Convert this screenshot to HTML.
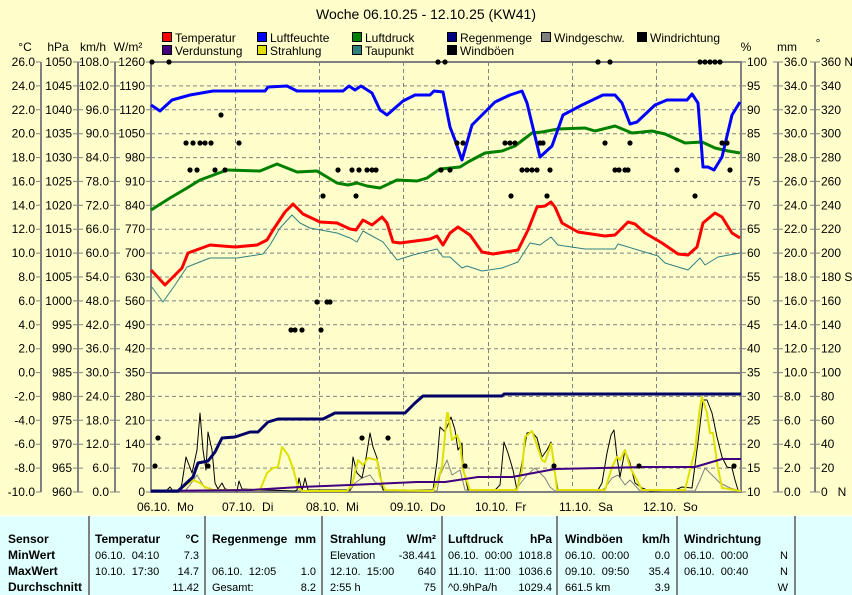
<!DOCTYPE html>
<html><head><meta charset="utf-8"><style>
html,body{margin:0;padding:0;background:#ffffcc;}
svg{display:block;font-family:"Liberation Sans",sans-serif;}
</style></head><body>
<svg width="852" height="595" viewBox="0 0 852 595" xmlns="http://www.w3.org/2000/svg">
<rect width="852" height="595" fill="#ffffcc"/>
<text x="426" y="19" font-size="14" text-anchor="middle">Woche 06.10.25 - 12.10.25 (KW41)</text>
<g font-size="12" stroke="#000" stroke-width="1">
<rect x="162.5" y="32.5" width="9" height="9" fill="#ff0000"/>
<rect x="257.5" y="32.5" width="9" height="9" fill="#0000ff"/>
<rect x="352.5" y="32.5" width="9" height="9" fill="#008000"/>
<rect x="447.5" y="32.5" width="9" height="9" fill="#000080"/>
<rect x="541.5" y="32.5" width="9" height="9" fill="#808080"/>
<rect x="637.5" y="32.5" width="9" height="9" fill="#000000"/>
<rect x="162.5" y="45.5" width="9" height="9" fill="#400080"/>
<rect x="257.5" y="45.5" width="9" height="9" fill="#e0e000"/>
<rect x="352.5" y="45.5" width="9" height="9" fill="#308080"/>
<rect x="447.5" y="45.5" width="9" height="9" fill="#000000"/>
</g>
<g font-size="12">
<text x="175" y="42">Temperatur</text><text x="270" y="42">Luftfeuchte</text><text x="365" y="42">Luftdruck</text><text x="460" y="42">Regenmenge</text><text x="554" y="42">Windgeschw.</text><text x="650" y="42">Windrichtung</text>
<text x="175" y="55">Verdunstung</text><text x="270" y="55">Strahlung</text><text x="365" y="55">Taupunkt</text><text x="460" y="55">Windböen</text>
</g>
<g font-size="12" text-anchor="middle">
<text x="25" y="51">°C</text><text x="58" y="51">hPa</text><text x="93" y="51">km/h</text><text x="128" y="51">W/m²</text>
<text x="746" y="51">%</text><text x="787" y="51">mm</text><text x="818" y="47">°</text>
</g>
<g stroke="#808080" stroke-width="1" stroke-dasharray="4,3">
<line x1="151" x2="741" y1="85.9" y2="85.9"/><line x1="151" x2="741" y1="109.8" y2="109.8"/><line x1="151" x2="741" y1="133.7" y2="133.7"/><line x1="151" x2="741" y1="157.6" y2="157.6"/><line x1="151" x2="741" y1="181.4" y2="181.4"/><line x1="151" x2="741" y1="205.3" y2="205.3"/><line x1="151" x2="741" y1="229.2" y2="229.2"/><line x1="151" x2="741" y1="253.1" y2="253.1"/><line x1="151" x2="741" y1="277" y2="277"/><line x1="151" x2="741" y1="300.9" y2="300.9"/><line x1="151" x2="741" y1="324.8" y2="324.8"/><line x1="151" x2="741" y1="348.7" y2="348.7"/><line x1="151" x2="741" y1="396.4" y2="396.4"/><line x1="151" x2="741" y1="420.3" y2="420.3"/><line x1="151" x2="741" y1="444.2" y2="444.2"/><line x1="151" x2="741" y1="468.1" y2="468.1"/>
<line x1="235.5" x2="235.5" y1="62" y2="492"/><line x1="319.5" x2="319.5" y1="62" y2="492"/><line x1="403.5" x2="403.5" y1="62" y2="492"/><line x1="488.5" x2="488.5" y1="62" y2="492"/><line x1="572.5" x2="572.5" y1="62" y2="492"/><line x1="656.5" x2="656.5" y1="62" y2="492"/>
</g>
<g stroke="#808080" stroke-width="2" fill="none">
<rect x="151" y="62" width="590" height="430"/>
<line x1="151" x2="741" y1="373" y2="373"/>
<line x1="41" x2="41" y1="62" y2="492"/><line x1="78" x2="78" y1="62" y2="492"/><line x1="115" x2="115" y1="62" y2="492"/>
<line x1="778" x2="778" y1="62" y2="492"/><line x1="815" x2="815" y1="62" y2="492"/>
</g>
<g stroke="#808080" stroke-width="1">
<path d="M36 62H41M36 85.9H41M36 109.8H41M36 133.7H41M36 157.6H41M36 181.4H41M36 205.3H41M36 229.2H41M36 253.1H41M36 277H41M36 300.9H41M36 324.8H41M36 348.7H41M36 372.6H41M36 396.4H41M36 420.3H41M36 444.2H41M36 468.1H41M36 492H41"/>
<path d="M73 62H83M73 85.9H83M73 109.8H83M73 133.7H83M73 157.6H83M73 181.4H83M73 205.3H83M73 229.2H83M73 253.1H83M73 277H83M73 300.9H83M73 324.8H83M73 348.7H83M73 372.6H83M73 396.4H83M73 420.3H83M73 444.2H83M73 468.1H83M73 492H83"/>
<path d="M110 62H120M110 85.9H120M110 109.8H120M110 133.7H120M110 157.6H120M110 181.4H120M110 205.3H120M110 229.2H120M110 253.1H120M110 277H120M110 300.9H120M110 324.8H120M110 348.7H120M110 372.6H120M110 396.4H120M110 420.3H120M110 444.2H120M110 468.1H120M110 492H120"/>
<path d="M146 62H151M146 85.9H151M146 109.8H151M146 133.7H151M146 157.6H151M146 181.4H151M146 205.3H151M146 229.2H151M146 253.1H151M146 277H151M146 300.9H151M146 324.8H151M146 348.7H151M146 372.6H151M146 396.4H151M146 420.3H151M146 444.2H151M146 468.1H151M146 492H151"/>
<path d="M741 62H746M741 85.9H746M741 109.8H746M741 133.7H746M741 157.6H746M741 181.4H746M741 205.3H746M741 229.2H746M741 253.1H746M741 277H746M741 300.9H746M741 324.8H746M741 348.7H746M741 372.6H746M741 396.4H746M741 420.3H746M741 444.2H746M741 468.1H746M741 492H746"/>
<path d="M773 62H783M773 85.9H783M773 109.8H783M773 133.7H783M773 157.6H783M773 181.4H783M773 205.3H783M773 229.2H783M773 253.1H783M773 277H783M773 300.9H783M773 324.8H783M773 348.7H783M773 372.6H783M773 396.4H783M773 420.3H783M773 444.2H783M773 468.1H783M773 492H783"/>
<path d="M810 62H820M810 85.9H820M810 109.8H820M810 133.7H820M810 157.6H820M810 181.4H820M810 205.3H820M810 229.2H820M810 253.1H820M810 277H820M810 300.9H820M810 324.8H820M810 348.7H820M810 372.6H820M810 396.4H820M810 420.3H820M810 444.2H820M810 468.1H820M810 492H820"/>
</g>
<g font-size="12" text-anchor="end">
<g transform="translate(35,4)"><text y="62">26.0</text><text y="85.9">24.0</text><text y="109.8">22.0</text><text y="133.7">20.0</text><text y="157.6">18.0</text><text y="181.4">16.0</text><text y="205.3">14.0</text><text y="229.2">12.0</text><text y="253.1">10.0</text><text y="277">8.0</text><text y="300.9">6.0</text><text y="324.8">4.0</text><text y="348.7">2.0</text><text y="372.6">0.0</text><text y="396.4">-2.0</text><text y="420.3">-4.0</text><text y="444.2">-6.0</text><text y="468.1">-8.0</text><text y="492">-10.0</text></g>
<g transform="translate(72,4)"><text y="62">1050</text><text y="85.9">1045</text><text y="109.8">1040</text><text y="133.7">1035</text><text y="157.6">1030</text><text y="181.4">1025</text><text y="205.3">1020</text><text y="229.2">1015</text><text y="253.1">1010</text><text y="277">1005</text><text y="300.9">1000</text><text y="324.8">995</text><text y="348.7">990</text><text y="372.6">985</text><text y="396.4">980</text><text y="420.3">975</text><text y="444.2">970</text><text y="468.1">965</text><text y="492">960</text></g>
<g transform="translate(109,4)"><text y="62">108.0</text><text y="85.9">102.0</text><text y="109.8">96.0</text><text y="133.7">90.0</text><text y="157.6">84.0</text><text y="181.4">78.0</text><text y="205.3">72.0</text><text y="229.2">66.0</text><text y="253.1">60.0</text><text y="277">54.0</text><text y="300.9">48.0</text><text y="324.8">42.0</text><text y="348.7">36.0</text><text y="372.6">30.0</text><text y="396.4">24.0</text><text y="420.3">18.0</text><text y="444.2">12.0</text><text y="468.1">6.0</text><text y="492">0.0</text></g>
<g transform="translate(145,4)"><text y="62">1260</text><text y="85.9">1190</text><text y="109.8">1120</text><text y="133.7">1050</text><text y="157.6">980</text><text y="181.4">910</text><text y="205.3">840</text><text y="229.2">770</text><text y="253.1">700</text><text y="277">630</text><text y="300.9">560</text><text y="324.8">490</text><text y="348.7">420</text><text y="372.6">350</text><text y="396.4">280</text><text y="420.3">210</text><text y="444.2">140</text><text y="468.1">70</text><text y="492">0</text></g>
</g>
<g font-size="12">
<g transform="translate(747,4)"><text y="62">100</text><text y="85.9">95</text><text y="109.8">90</text><text y="133.7">85</text><text y="157.6">80</text><text y="181.4">75</text><text y="205.3">70</text><text y="229.2">65</text><text y="253.1">60</text><text y="277">55</text><text y="300.9">50</text><text y="324.8">45</text><text y="348.7">40</text><text y="372.6">35</text><text y="396.4">30</text><text y="420.3">25</text><text y="444.2">20</text><text y="468.1">15</text><text y="492">10</text></g>
<g transform="translate(784,4)"><text y="62">36.0</text><text y="85.9">34.0</text><text y="109.8">32.0</text><text y="133.7">30.0</text><text y="157.6">28.0</text><text y="181.4">26.0</text><text y="205.3">24.0</text><text y="229.2">22.0</text><text y="253.1">20.0</text><text y="277">18.0</text><text y="300.9">16.0</text><text y="324.8">14.0</text><text y="348.7">12.0</text><text y="372.6">10.0</text><text y="396.4">8.0</text><text y="420.3">6.0</text><text y="444.2">4.0</text><text y="468.1">2.0</text><text y="492">0.0</text></g>
<g transform="translate(821,4)"><text y="62">360 N</text><text y="85.9">340</text><text y="109.8">320</text><text y="133.7">300</text><text y="157.6">280</text><text y="181.4">260</text><text y="205.3">240</text><text y="229.2">220</text><text y="253.1">200</text><text y="277">180 S</text><text y="300.9">160</text><text y="324.8">140</text><text y="348.7">120</text><text y="372.6">100</text><text y="396.4">80</text><text y="420.3">60</text><text y="444.2">40</text><text y="468.1">20</text><text y="492">0&#160;&#160;&#160;N</text></g>
</g>
<g font-size="12">
<text x="137" y="511">06.10.&#160; Mo</text><text x="222" y="511">07.10.&#160; Di</text><text x="306" y="511">08.10.&#160; Mi</text><text x="390" y="511">09.10.&#160; Do</text><text x="475" y="511">10.10.&#160; Fr</text><text x="559" y="511">11.10.&#160; Sa</text><text x="643" y="511">12.10.&#160; So</text>
</g>
<g fill="none" stroke-linejoin="round">
<polyline stroke="#308080" stroke-width="1" points="151,286 163,302 175,285 187,267 210,258 237,258 263,254 270,245 280,228 292,215 300,223 310,228 337,233 350,238 357,242 363,231 383,242 397,260 413,255 437,249 443,257 450,257 462,268 467,266 482,271 502,268 518,262 530,243 540,245 551,237 558,245 585,249 615,249 618,244 638,250 658,256 665,263 688,270 700,258 705,265 718,257 740,253"/>
<polyline stroke="#ff0000" stroke-width="3" points="151,270 165,285 182,268 188,253 210,245 235,247 257,245 267,240 273,230 285,212 293,204 303,214 320,222 337,223 350,229 356,230 363,220 372,225 382,217 387,223 393,242 400,243 423,240 430,239 437,236 443,245 450,233 458,227 470,235 482,252 493,254 518,250 528,230 537,207 545,206 551,202 555,207 562,223 578,232 605,236 615,235 628,222 635,224 645,233 662,243 678,254 688,255 697,247 703,223 715,213 722,217 732,233 740,238"/>
<polyline stroke="#008000" stroke-width="3" points="151,210 170,198 187,188 200,180 227,170 260,171 277,164 297,172 317,171 337,183 348,185 357,183 367,186 380,188 397,180 417,181 427,178 440,169 450,168 460,167 468,162 485,153 502,151 515,146 532,133 542,132 558,129 585,128 595,131 615,126 632,133 652,131 665,134 685,143 702,142 715,148 728,151 740,153"/>
<polyline stroke="#0000ff" stroke-width="3" points="151,105 160,111 172,100 190,95 213,91 265,91 268,87 287,86 297,91 343,91 349,86 355,90 361,86 372,93 380,110 387,115 403,101 415,95 430,95 434,91 443,92 450,127 455,140 462,160 472,125 495,102 510,95 522,91 527,103 540,157 552,146 563,115 582,105 603,95 615,95 622,103 630,124 637,122 655,105 667,100 687,100 692,94 698,103 703,167 708,167 714,170 722,157 732,115 740,102"/>
</g>
<g fill="#000">
<circle cx="152" cy="62" r="2.6"/><circle cx="169" cy="62" r="2.6"/><circle cx="438" cy="62" r="2.6"/><circle cx="445" cy="62" r="2.6"/><circle cx="598" cy="62" r="2.6"/><circle cx="610" cy="62" r="2.6"/><circle cx="700" cy="62" r="2.6"/><circle cx="705" cy="62" r="2.6"/><circle cx="710" cy="62" r="2.6"/><circle cx="715" cy="62" r="2.6"/><circle cx="720" cy="62" r="2.6"/>
<circle cx="221" cy="115" r="2.6"/>
<circle cx="186" cy="143" r="2.6"/><circle cx="193" cy="143" r="2.6"/><circle cx="200" cy="143" r="2.6"/><circle cx="205" cy="143" r="2.6"/><circle cx="211" cy="143" r="2.6"/><circle cx="239" cy="143" r="2.6"/>
<circle cx="457" cy="143" r="2.6"/><circle cx="463" cy="143" r="2.6"/><circle cx="505" cy="143" r="2.6"/><circle cx="510" cy="143" r="2.6"/><circle cx="515" cy="143" r="2.6"/><circle cx="540" cy="143" r="2.6"/><circle cx="543" cy="143" r="2.6"/><circle cx="605" cy="143" r="2.6"/><circle cx="630" cy="143" r="2.6"/><circle cx="722" cy="143" r="2.6"/><circle cx="727" cy="143" r="2.6"/>
<circle cx="190" cy="170" r="2.6"/><circle cx="197" cy="170" r="2.6"/><circle cx="215" cy="170" r="2.6"/><circle cx="225" cy="170" r="2.6"/><circle cx="338" cy="170" r="2.6"/><circle cx="352" cy="170" r="2.6"/><circle cx="359" cy="170" r="2.6"/><circle cx="367" cy="170" r="2.6"/><circle cx="372" cy="170" r="2.6"/><circle cx="376" cy="170" r="2.6"/><circle cx="441" cy="170" r="2.6"/><circle cx="450" cy="170" r="2.6"/><circle cx="522" cy="170" r="2.6"/><circle cx="527" cy="170" r="2.6"/><circle cx="532" cy="170" r="2.6"/><circle cx="537" cy="170" r="2.6"/><circle cx="550" cy="170" r="2.6"/><circle cx="615" cy="170" r="2.6"/><circle cx="619" cy="170" r="2.6"/><circle cx="625" cy="170" r="2.6"/><circle cx="628" cy="170" r="2.6"/><circle cx="677" cy="170" r="2.6"/><circle cx="730" cy="170" r="2.6"/>
<circle cx="323" cy="196" r="2.6"/><circle cx="356" cy="196" r="2.6"/><circle cx="511" cy="196" r="2.6"/><circle cx="547" cy="196" r="2.6"/><circle cx="695" cy="196" r="2.6"/>
<circle cx="317" cy="302" r="2.6"/><circle cx="327" cy="302" r="2.6"/><circle cx="330" cy="302" r="2.6"/>
<circle cx="291" cy="330" r="2.6"/><circle cx="295" cy="330" r="2.6"/><circle cx="302" cy="330" r="2.6"/><circle cx="321" cy="330" r="2.6"/>
</g>
<g fill="none" stroke-linejoin="round">
<polyline stroke="#808080" stroke-width="1" points="151,491 185,491 190,485 197,475 200,480 205,488 210,488 215,491 350,491 355,483 362,478 370,475 375,482 380,485 385,491 437,491 440,475 447,460 452,475 460,470 465,490 512,491 517,488 527,475 535,468 545,478 550,487 555,491 600,491 605,488 612,478 618,475 625,485 630,480 640,491 695,491 700,480 705,468 712,475 720,483 730,488 741,491"/>
<polyline stroke="#000" stroke-width="1" points="151,491 165,491 167,490 170,487 173,491 180,491 182,483 186,457 192,473 197,450 200,413 203,450 206,470 208,432 212,450 215,483 218,489 222,483 225,489 237,491 239,481 242,489 295,491 297,490 299,478 302,491 305,478 308,490 350,490 353,457 357,473 362,478 366,458 370,433 373,447 377,458 380,473 383,490 403,490 433,490 437,462 440,427 445,432 451,417 455,430 458,450 462,443 463,467 468,490 495,490 500,485 504,442 508,453 513,470 517,490 523,457 527,433 532,432 537,438 542,457 547,450 551,442 554,467 558,490 598,490 602,483 607,453 611,435 614,430 617,457 620,477 625,450 630,463 635,483 642,488 650,491 675,490 682,487 692,488 698,442 703,400 707,400 712,413 717,437 722,457 727,467 732,468 735,480 738,490 741,491"/>
<polyline stroke="#e0e000" stroke-width="2" points="151,491 177,491 183,487 193,480 200,483 205,487 213,490 260,490 267,473 273,468 278,467 282,447 288,455 293,468 298,487 302,491 347,491 352,485 358,460 363,465 368,458 377,460 380,477 385,490 433,491 437,482 442,467 447,413 448,413 452,440 457,435 460,443 463,470 470,490 517,490 522,470 525,437 532,431 542,460 545,462 551,444 553,457 557,490 605,490 612,467 617,457 620,460 625,450 630,467 642,490 685,490 695,450 700,407 702,397 707,413 710,433 713,433 717,463 722,488 735,490 741,491"/>
<polyline stroke="#400080" stroke-width="2" points="151,491 250,490 300,487 350,485 417,482 445,482 478,477 512,477 555,469 645,467 695,467 722,459 741,459"/>
<polyline stroke="#000066" stroke-width="3" points="151,491 178,491 193,477 198,463 208,461 215,452 222,438 235,437 250,432 258,432 268,422 278,419 323,419 335,413 405,413 415,403 423,396 502,396 504,394 741,394"/>
</g>
<g fill="#000">
<circle cx="158" cy="438" r="2.6"/><circle cx="155" cy="466" r="2.6"/><circle cx="208" cy="466" r="2.6"/><circle cx="362" cy="438" r="2.6"/><circle cx="388" cy="438" r="2.6"/><circle cx="465" cy="466" r="2.6"/><circle cx="554" cy="466" r="2.6"/><circle cx="639" cy="466" r="2.6"/><circle cx="734" cy="466" r="2.6"/>
</g>
<rect x="0" y="516" width="852" height="79" fill="#e0ffff"/>
<line x1="0" x2="852" y1="516" y2="516" stroke="#ffffff" stroke-width="1"/>
<g stroke="#808080" stroke-width="2">
<line x1="89" x2="89" y1="516" y2="595"/><line x1="205" x2="205" y1="516" y2="595"/><line x1="322" x2="322" y1="516" y2="595"/><line x1="442" x2="442" y1="516" y2="595"/><line x1="557" x2="557" y1="516" y2="595"/><line x1="677" x2="677" y1="516" y2="595"/><line x1="795" x2="795" y1="516" y2="595"/>
</g>
<g font-size="12" font-weight="bold">
<text x="8" y="543">Sensor</text><text x="8" y="559">MinWert</text><text x="8" y="575">MaxWert</text><text x="8" y="591">Durchschnitt</text>
<text x="95" y="543">Temperatur</text><text x="212" y="543">Regenmenge</text><text x="330" y="543">Strahlung</text><text x="448" y="543">Luftdruck</text><text x="565" y="543">Windböen</text><text x="684" y="543">Windrichtung</text>
<g text-anchor="end"><text x="199" y="543">°C</text><text x="316" y="543">mm</text><text x="436" y="543">W/m²</text><text x="552" y="543">hPa</text><text x="670" y="543">km/h</text></g>
</g>
<g font-size="11">
<text x="95" y="559">06.10.&#160; 04:10</text><text x="95" y="575">10.10.&#160; 17:30</text>
<text x="212" y="575">06.10.&#160; 12:05</text><text x="212" y="591">Gesamt:</text>
<text x="330" y="559">Elevation</text><text x="330" y="575">12.10.&#160; 15:00</text><text x="330" y="591">2:55 h</text>
<text x="448" y="559">06.10.&#160; 00:00</text><text x="448" y="575">11.10.&#160; 11:00</text><text x="448" y="591">^0.9hPa/h</text>
<text x="565" y="559">06.10.&#160; 00:00</text><text x="565" y="575">09.10.&#160; 09:50</text><text x="565" y="591">661.5 km</text>
<text x="684" y="559">06.10.&#160; 00:00</text><text x="684" y="575">06.10.&#160; 00:40</text>
<g text-anchor="end">
<text x="199" y="559">7.3</text><text x="199" y="575">14.7</text><text x="199" y="591">11.42</text>
<text x="316" y="575">1.0</text><text x="316" y="591">8.2</text>
<text x="436" y="559">-38.441</text><text x="436" y="575">640</text><text x="436" y="591">75</text>
<text x="552" y="559">1018.8</text><text x="552" y="575">1036.6</text><text x="552" y="591">1029.4</text>
<text x="670" y="559">0.0</text><text x="670" y="575">35.4</text><text x="670" y="591">3.9</text>
<text x="788" y="559">N</text><text x="788" y="575">N</text><text x="788" y="591">W</text>
</g>
</g>
</svg>
</body></html>
